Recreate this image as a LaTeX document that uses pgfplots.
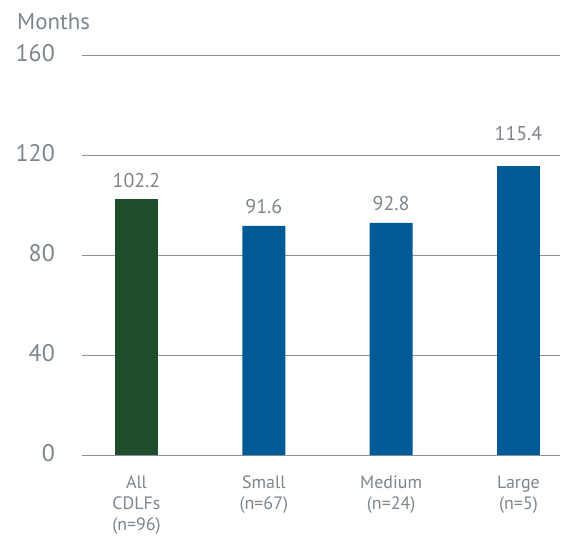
\documentclass[border=0pt]{standalone}
\usepackage{pgfplots}
\pgfplotsset{compat=1.18}
\usepackage{fontspec}
\setmainfont{PT Sans}
\definecolor{txtgray}{HTML}{7D858C}
\definecolor{gridgray}{HTML}{8C9196}
\definecolor{cdgreen}{HTML}{1E4D2B}
\definecolor{cdblue}{HTML}{005A96}
\begin{document}
\begin{tikzpicture}
\path[use as bounding box] (-82bp,-81bp) rectangle (486bp,455bp);
\begin{axis}[
  at={(0,0)}, anchor=south west,
  scale only axis, width=478bp, height=400bp,
  xmin=-0.428, xmax=3.326, ymin=0, ymax=160,
  axis line style={draw=none},
  major tick length=0pt,
  ytick={0,40,80,120,160},
  ymajorgrids, grid style={gridgray, line width=0.9bp},
  xtick={0,1,2,3},
  xticklabels={{All\\CDLFs\\(n=96)},{Small\\(n=67)},{Medium\\(n=24)},{Large\\(n=5)}},
  xticklabel style={font=\fontsize{18}{21}\selectfont, align=center, text=txtgray, anchor=north, inner sep=0pt, yshift=-21bp},
  yticklabel style={font=\fontsize{24}{28}\selectfont, text=txtgray, anchor=east, inner sep=0pt, xshift=-27bp, yshift=2bp},
  /pgf/number format/assume math mode=true,
  clip=false,
  ybar, bar width=43bp, bar shift=0pt,
  nodes near coords={\pgfmathprintnumber[fixed,precision=1,fixed zerofill]{\pgfplotspointmeta}},
  nodes near coords style={font=\fontsize{20}{24}\selectfont, text=txtgray, anchor=south, inner sep=0pt, yshift=12bp},
  point meta=y,
]
\addplot[fill=cdgreen, draw=none] coordinates {(0,102.2)};
\addplot[fill=cdblue, draw=none] coordinates {(1,91.6) (2,92.8)};
\addplot[fill=cdblue, draw=none, nodes near coords style={yshift=14bp}] coordinates {(3,115.4)};
\end{axis}
\node[anchor=base west, inner sep=0pt, text=txtgray, font=\fontsize{23}{27}\selectfont] at (-65bp,425bp) {Months};
\end{tikzpicture}
\end{document}
